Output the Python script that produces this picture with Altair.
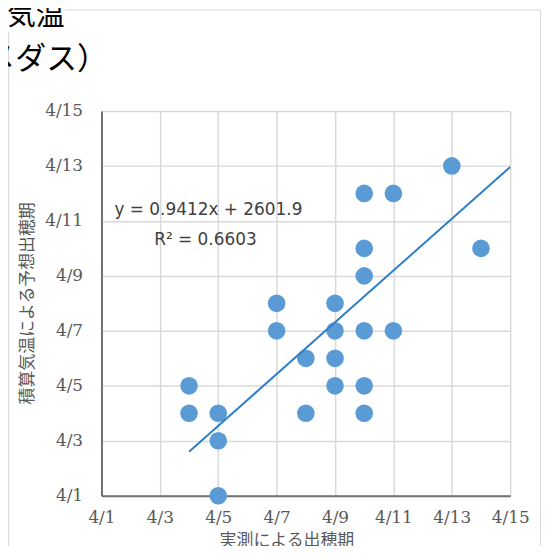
import altair as alt
import pandas as pd

# Day of April (4/1 -> 1)
actual_day = [13, 14, 10, 11, 10, 10, 7, 7, 9, 9, 9, 9, 8, 8, 10, 11, 10, 10, 4, 4, 5, 5, 5]
predicted_day = [13, 10, 12, 12, 10, 9, 8, 7, 8, 7, 6, 5, 6, 4, 7, 7, 5, 4, 5, 4, 4, 3, 1]

tick_days = [1, 3, 5, 7, 9, 11, 13, 15]

# Trend line (as displayed): slope from equation, intercept expressed in April-day units
trend_slope = 0.9412
trend_intercept_day = -1.16
trend_x_end = 15

eq_text = "y = 0.9412x + 2601.9"
r2_text = "R² = 0.6603"
title_line1 = "積算気温"
title_line2 = "（アメダス）"
x_title = "実測による出穂期"
y_title = "積算気温による予想出穂期"

df = pd.DataFrame({"actual": actual_day, "predicted": predicted_day})
tx = [min(actual_day), trend_x_end]
trend_df = pd.DataFrame({"actual": tx, "predicted": [trend_slope * v + trend_intercept_day for v in tx]})

GRID = "#d9d9d9"
LABEL = "#595959"
W, H = 411, 387

xscale = alt.Scale(domain=[1, 15], nice=False, zero=False)
yscale = alt.Scale(domain=[1, 15], nice=False, zero=False)

x_axis = alt.Axis(
    values=tick_days, labelExpr="'4/' + datum.value", title=x_title,
    grid=True, gridColor=GRID, gridWidth=1.5, ticks=False,
    domainColor="#707070", domainWidth=2,
    labelFont="DejaVu Serif", labelFontSize=17, labelColor=LABEL,
    labelBaseline="middle", labelPadding=22, labelFlush=False,
    titleFont="Noto Sans CJK JP", titleFontSize=17, titleColor=LABEL,
    titleFontWeight="normal", titleX=186, titleY=45, titleBaseline="middle", titleAlign="center",
)
y_axis = alt.Axis(
    values=tick_days, labelExpr="'4/' + datum.value", title=y_title,
    grid=True, gridColor=GRID, gridWidth=1.5, ticks=False,
    domainColor="#707070", domainWidth=2,
    labelFont="DejaVu Serif", labelFontSize=17, labelColor=LABEL,
    labelBaseline="middle", labelPadding=19, labelFlush=False,
    titleFont="Noto Sans CJK JP", titleFontSize=17, titleColor=LABEL,
    titleFontWeight="normal", titleX=-74, titleY=193, titleBaseline="middle",
    titleAlign="center", titleAngle=270,
)

one = pd.DataFrame({"k": [0]})

frame = alt.Chart(one).mark_rect(fillOpacity=0, stroke=GRID, strokeWidth=1.25).encode(
    x=alt.value(-93.5), x2=alt.value(441.5), y=alt.value(-101.5), y2=alt.value(520)
)
white_patch = alt.Chart(one).mark_rect(color="white").encode(
    x=alt.value(-110), x2=alt.value(-37), y=alt.value(-115), y2=alt.value(-79)
)
t1 = alt.Chart(pd.DataFrame({"t": [title_line1]})).mark_text(
    font="Noto Sans CJK JP", fontSize=29, color="black", align="right", baseline="middle"
).encode(text="t:N", x=alt.value(-37), y=alt.value(-95))
t2 = alt.Chart(pd.DataFrame({"t": [title_line2]})).mark_text(
    font="Noto Sans CJK JP", fontSize=31, color="black", align="left", baseline="middle"
).encode(text="t:N", x=alt.value(-178), y=alt.value(-51))

points = alt.Chart(df).mark_circle(size=314, color="#5B9BD5", opacity=1).encode(
    x=alt.X("actual:Q", scale=xscale, axis=x_axis),
    y=alt.Y("predicted:Q", scale=yscale, axis=y_axis),
)
trend = alt.Chart(trend_df).mark_line(color="#2F7FC8", strokeWidth=2).encode(
    x=alt.X("actual:Q", scale=xscale), y=alt.Y("predicted:Q", scale=yscale)
)
eq = alt.Chart(pd.DataFrame({"t": [eq_text]})).mark_text(
    font="DejaVu Sans", fontSize=17, color="#404040", align="left", baseline="middle"
).encode(text="t:N", x=alt.value(13), y=alt.value(100))
r2 = alt.Chart(pd.DataFrame({"t": [r2_text]})).mark_text(
    font="DejaVu Sans", fontSize=17, color="#404040", align="left", baseline="middle"
).encode(text="t:N", x=alt.value(53), y=alt.value(130))

chart = alt.layer(frame, white_patch, t1, t2, points, trend, eq, r2).properties(
    width=W, height=H,
    padding={"left": 94, "top": 102, "right": 31, "bottom": 49},
    autosize=alt.AutoSizeParams(type="none"),
).configure_view(stroke=None)

chart.save("out.html", embed_options={"renderer": "svg", "actions": False})
